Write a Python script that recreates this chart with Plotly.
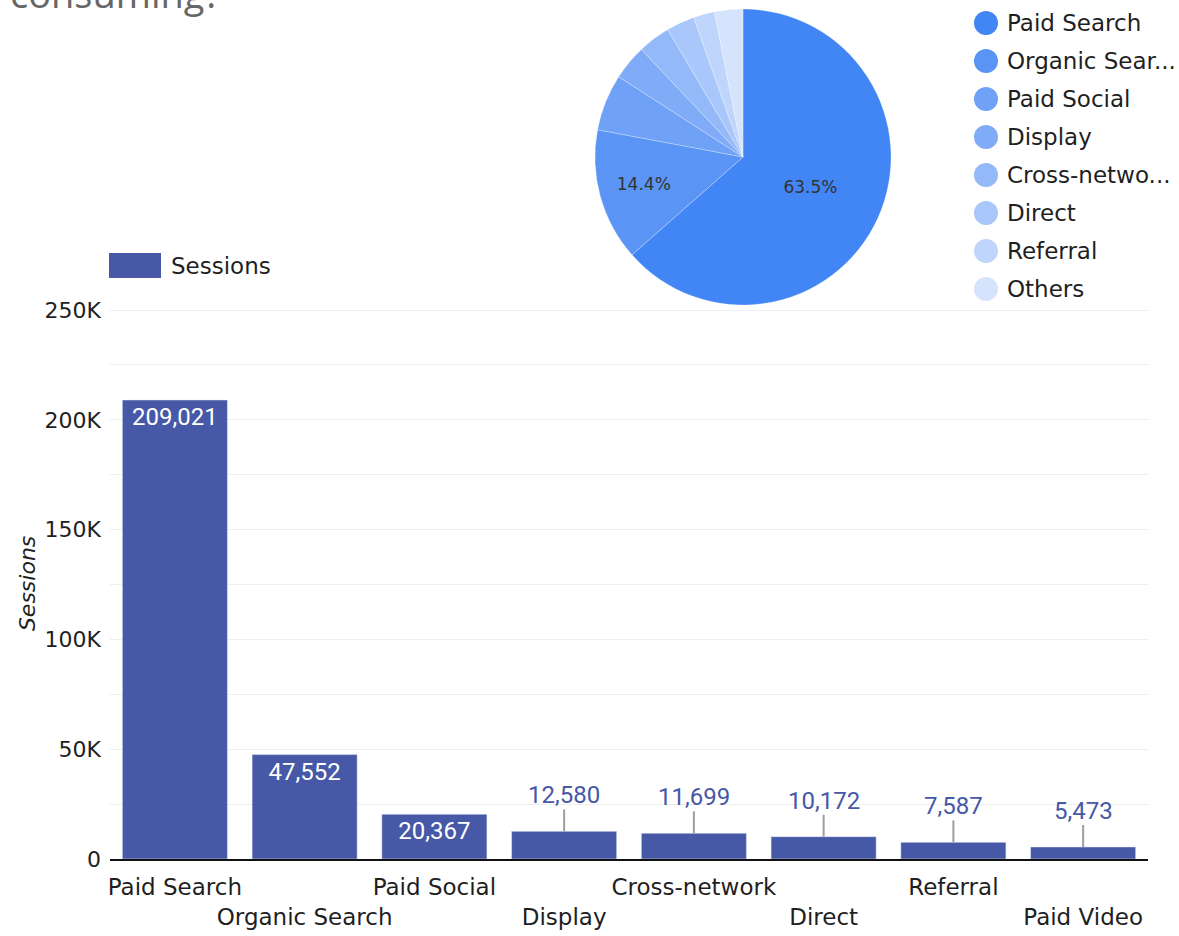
import plotly.graph_objects as go

# sessions per default channel group
channels = ["Paid Search", "Organic Search", "Paid Social", "Display",
            "Cross-network", "Direct", "Referral", "Paid Video"]
sessions = [209021, 47552, 20367, 12580, 11699, 10172, 7587, 5473]

# pie: top 7 + everything else
pie_labels = ["Paid Search", "Organic Search", "Paid Social", "Display",
              "Cross-network", "Direct", "Referral", "Others"]
pie_legend_text = ["Paid Search", "Organic Sear...", "Paid Social", "Display",
                   "Cross-netwo...", "Direct", "Referral", "Others"]
pie_values = [209021, 47552, 20367, 12580, 11699, 10172, 7587, 10189]
pie_colors = ["#4285f4", "#5a95f5", "#6fa2f6", "#80acf7",
              "#94b9f8", "#a9c7fa", "#bfd5fb", "#d5e4fc"]

W, H = 1179, 936
BAR = "#4658a6"
FONT = "DejaVu Sans"
INK = "#1f1f1f"

def px_x(x):
    return x / W

def px_y(y):
    return 1 - y / H

inside = [v > 15000 for v in sessions]

fig = go.Figure()

fig.add_trace(go.Bar(
    x=channels,
    y=sessions,
    marker_color=BAR,
    texttemplate="%{y:,}",
    textposition=["inside" if i else "none" for i in inside],
    insidetextanchor="end",
    textfont=dict(family="Roboto", size=24, color="white"),
    error_y=dict(
        type="data", symmetric=False,
        array=[0 if i else 10000 for i in inside],
        arrayminus=[0] * len(sessions),
        color="#9e9e9e", thickness=2, width=0,
    ),
    showlegend=False,
    hoverinfo="skip",
))

# labels for the short bars sit above a leader line
for ch, v, i in zip(channels, sessions, inside):
    if not i:
        fig.add_annotation(
            x=ch, y=v, xref="x", yref="y", text=f"{v:,}", showarrow=False,
            yanchor="middle", yshift=36,
            font=dict(family="Roboto", size=24, color=BAR),
        )

fig.add_trace(go.Pie(
    labels=pie_labels,
    values=pie_values,
    sort=False,
    direction="clockwise",
    rotation=0,
    marker=dict(colors=pie_colors, line=dict(color="rgba(255,255,255,0.5)", width=0.5)),
    texttemplate=["%{percent:.1%}", "%{percent:.1%}"] + [""] * 6,
    textposition="inside",
    insidetextorientation="horizontal",
    textfont=dict(family=FONT, size=17, color="#333333"),
    domain=dict(x=[px_x(595), px_x(891)], y=[px_y(305), px_y(9)]),
    showlegend=False,
    hoverinfo="skip",
))

# pie legend with round swatches
for k, (txt, col) in enumerate(zip(pie_legend_text, pie_colors)):
    yc = px_y(23 + 38 * k)
    fig.add_shape(type="circle", xref="paper", yref="paper",
                  xsizemode="pixel", ysizemode="pixel",
                  xanchor=px_x(986), yanchor=yc,
                  x0=-12, x1=12, y0=-12, y1=12,
                  fillcolor=col, line_width=0)
    fig.add_annotation(x=px_x(1005), y=yc, xref="paper", yref="paper",
                       text=txt, showarrow=False, xanchor="left", yanchor="middle",
                       font=dict(family=FONT, size=23, color=INK))

# bar legend
fig.add_shape(type="rect", xref="paper", yref="paper",
              x0=px_x(109), x1=px_x(161), y0=px_y(278), y1=px_y(253),
              fillcolor=BAR, line_width=0)
fig.add_annotation(x=px_x(169), y=px_y(266), xref="paper", yref="paper",
                   text="Sessions", showarrow=False, xanchor="left", yanchor="middle",
                   font=dict(family=FONT, size=23, color=INK))

# cut-off heading from the dashboard above
fig.add_annotation(x=px_x(8), y=px_y(12), xref="paper", yref="paper",
                   text="consuming?", showarrow=False, xanchor="left", yanchor="bottom",
                   yshift=-9,
                   font=dict(family="Open Sans", size=38, color="#666666"))

ticktext = [c if n % 2 == 0 else "<br>" + c for n, c in enumerate(channels)]

fig.update_layout(
    width=W, height=H,
    margin=dict(l=0, r=0, t=0, b=0),
    paper_bgcolor="white",
    plot_bgcolor="white",
    bargap=0.19,
    font=dict(family=FONT, size=22, color=INK),
    xaxis=dict(
        domain=[px_x(110), px_x(1148)],
        tickmode="array", tickvals=channels, ticktext=ticktext,
        tickangle=0, automargin=False,
        tickfont=dict(size=23, color=INK),
        showline=True, linecolor="#111111", linewidth=2,
        ticks="", showgrid=False,
        ticklabelstandoff=6,
    ),
    yaxis=dict(
        domain=[px_y(859), px_y(307.8)],
        range=[0, 251000],
        automargin=False,
        tickvals=[0, 50000, 100000, 150000, 200000, 250000],
        ticktext=["0", "50K", "100K", "150K", "200K", "250K"],
        tickfont=dict(size=22, color=INK),
        showgrid=True, gridcolor="#eeeeee", gridwidth=1,
        minor=dict(tickvals=[25000, 75000, 125000, 175000, 225000],
                   showgrid=True, gridcolor="#eeeeee"),
        zeroline=False,
        title=dict(text="<i>Sessions</i>", font=dict(size=22, color=INK), standoff=2),
        ticklabelstandoff=8,
    ),
)

fig.write_html("out.html", config={"displayModeBar": False},
               post_script="document.body.style.margin = '0';")
